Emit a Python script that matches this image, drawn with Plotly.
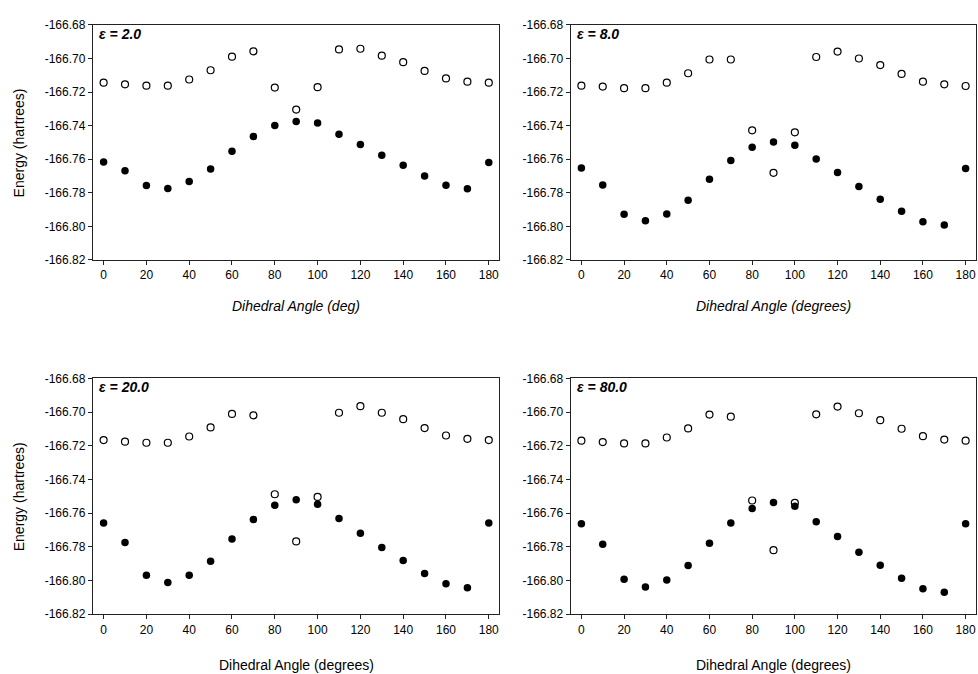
import plotly.graph_objects as go

W, H = 978, 674

angles = [0, 10, 20, 30, 40, 50, 60, 70, 80, 90, 100, 110, 120, 130, 140, 150, 160, 170, 180]

panel_labels = ["ε = 2.0", "ε = 8.0", "ε = 20.0", "ε = 80.0"]
x_titles = ["Dihedral Angle (deg)", "Dihedral Angle (degrees)",
            "Dihedral Angle (degrees)", "Dihedral Angle (degrees)"]

open_eps2 = [-166.7144, -166.7154, -166.7162, -166.7162, -166.7125, -166.7070, -166.6989, -166.6957,
             -166.7173, -166.7304, -166.7171, -166.6946, -166.6942, -166.6983, -166.7022, -166.7074,
             -166.7119, -166.7138, -166.7144]
filled_eps2 = [-166.7617, -166.7669, -166.7757, -166.7774, -166.7733, -166.7659, -166.7553, -166.7465,
               -166.7399, -166.7376, -166.7385, -166.7451, -166.7512, -166.7576, -166.7636, -166.7700,
               -166.7755, -166.7776, -166.7619]

open_eps8 = [-166.7162, -166.7167, -166.7177, -166.7177, -166.7144, -166.7088, -166.7006, -166.7006,
             -166.7428, -166.7681, -166.7440, -166.6991, -166.6959, -166.7000, -166.7039, -166.7092,
             -166.7138, -166.7154, -166.7164]
filled_eps8 = [-166.7652, -166.7753, -166.7928, -166.7967, -166.7926, -166.7844, -166.7720, -166.7607,
               -166.7529, -166.7498, -166.7517, -166.7599, -166.7679, -166.7762, -166.7838, -166.7910,
               -166.7972, -166.7992, -166.7656]

open_eps20 = [-166.7166, -166.7176, -166.7182, -166.7182, -166.7145, -166.7091, -166.7011, -166.7019,
              -166.7488, -166.7768, -166.7504, -166.7004, -166.6965, -166.7004, -166.7042, -166.7095,
              -166.7139, -166.7159, -166.7166]
filled_eps20 = [-166.7659, -166.7775, -166.7969, -166.8012, -166.7969, -166.7886, -166.7754, -166.7638,
                -166.7554, -166.7521, -166.7548, -166.7632, -166.7719, -166.7804, -166.7882, -166.7958,
                -166.8020, -166.8043, -166.7659]

open_eps80 = [-166.7170, -166.7178, -166.7186, -166.7186, -166.7151, -166.7097, -166.7015, -166.7027,
              -166.7525, -166.7820, -166.7539, -166.7013, -166.6967, -166.7007, -166.7048, -166.7099,
              -166.7143, -166.7163, -166.7170]
filled_eps80 = [-166.7663, -166.7785, -166.7993, -166.8039, -166.7998, -166.7911, -166.7779, -166.7659,
                -166.7572, -166.7537, -166.7560, -166.7651, -166.7739, -166.7832, -166.7909, -166.7987,
                -166.8049, -166.8070, -166.7663]

y_ticks = [-166.82, -166.80, -166.78, -166.76, -166.74, -166.72, -166.70, -166.68]
x_ticks = [0, 20, 40, 60, 80, 100, 120, 140, 160, 180]

open_series = [open_eps2, open_eps8, open_eps20, open_eps80]
filled_series = [filled_eps2, filled_eps8, filled_eps20, filled_eps80]

# pixel boxes of panels: (left, right, top, bottom)
boxes = [(93, 500, 18.3, 258.3), (571.3, 977.3, 18.3, 258.3),
         (93, 500, 379.3, 620), (571.3, 977.3, 379.3, 620)]

FONT = "Liberation Sans, Arial, sans-serif"

fig = go.Figure()
layout = dict(
    width=W, height=H, margin=dict(l=0, r=0, t=0, b=0),
    paper_bgcolor="white", plot_bgcolor="white", showlegend=False,
    font=dict(family=FONT, color="black", size=12),
)
annotations = []

for i in range(4):
    n = "" if i == 0 else str(i + 1)
    xa, ya = "x" + n, "y" + n
    l, r, t, b = boxes[i]
    fig.add_trace(go.Scatter(
        x=angles, y=open_series[i], mode="markers", xaxis=xa, yaxis=ya,
        marker=dict(symbol="circle-open", size=7, color="black", line=dict(width=1.2, color="black"))))
    fig.add_trace(go.Scatter(
        x=angles, y=filled_series[i], mode="markers", xaxis=xa, yaxis=ya,
        marker=dict(symbol="circle", size=7.5, color="black")))
    common = dict(showgrid=False, zeroline=False, showline=True, linecolor="#222", linewidth=1.2,
                  mirror=True, ticks="outside", ticklen=4, tickwidth=1, tickcolor="#222",
                  tickfont=dict(family=FONT, size=12, color="black"))
    layout["xaxis" + n] = dict(domain=[l / W, r / W], anchor=ya, range=[-5, 185],
                               tickvals=x_ticks, ticktext=[str(v) for v in x_ticks], **common)
    layout["yaxis" + n] = dict(domain=[1 - b / H, 1 - t / H], anchor=xa, range=[-166.82, -166.68],
                               tickvals=y_ticks, ticktext=["-%.2f" % abs(v) for v in y_ticks], **common)
    # panel label
    annotations.append(dict(x=(l + 4) / W, y=1 - (t + 9) / H, xref="paper", yref="paper",
                            xanchor="left", yanchor="middle", showarrow=False,
                            text="<b><i>" + panel_labels[i] + "</i></b>",
                            font=dict(family=FONT, size=14, color="black")))
    # x title
    xt_y = 305 if i < 2 else 672
    annotations.append(dict(x=(l + r) / 2 / W, y=1 - xt_y / H, xref="paper", yref="paper",
                            xanchor="center", yanchor="middle", showarrow=False,
                            text="<i>" + x_titles[i] + "</i>" if i < 2 else x_titles[i],
                            font=dict(family=FONT, size=14, color="black")))
    if i in (0, 2):
        annotations.append(dict(x=19 / W, y=1 - (t + b) / 2 / H, xref="paper", yref="paper",
                                xanchor="center", yanchor="middle", showarrow=False, textangle=-90,
                                text="Energy (hartrees)",
                                font=dict(family=FONT, size=14, color="black")))

layout["annotations"] = annotations
fig.update_layout(**layout)
fig.write_html("out.html")
